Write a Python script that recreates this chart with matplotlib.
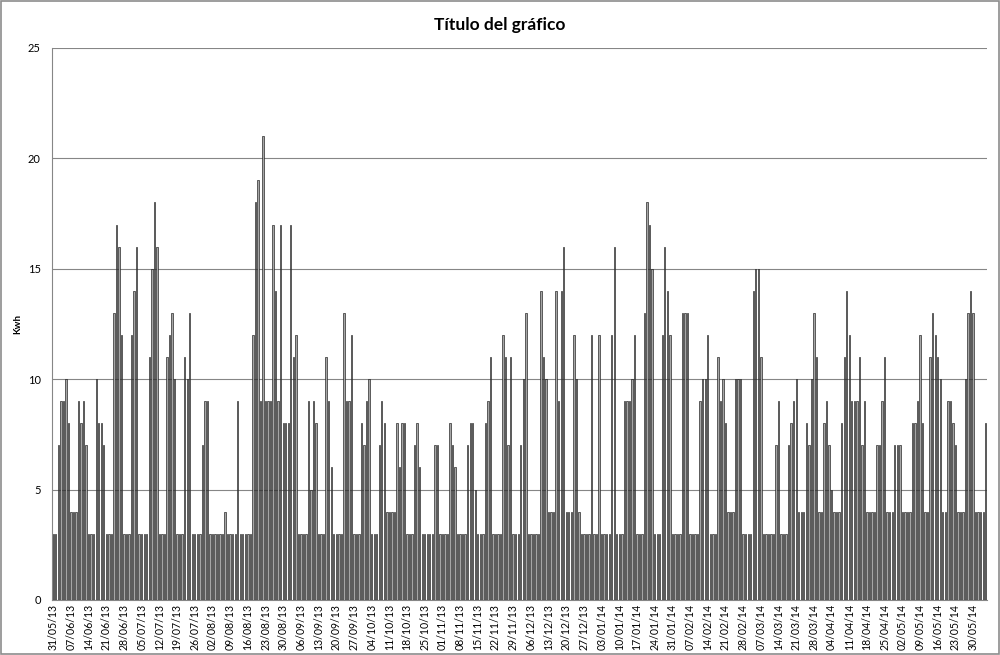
import matplotlib
matplotlib.use("Agg")
import matplotlib.pyplot as plt
import pandas as pd
import numpy as np

start_date = "2013-05-31"
kwh = [
    3,3,7,9,9,10,8, 4,4,4,9,8,9,7, 3,3,3,10,8,8,7, 3,3,3,13,17,16,12, 3,3,
    3, 12,14,16, 3,3,3,3, 11,15,18,16, 3,3,3, 11,12,13,10, 3,3,3, 11,10,13,
    3,3,3,3, 7,9,9, 3,3,3,3,3,3, 4, 3,3,3,3, 9, 3,3,3,3,3,
    12,18,19,9,21,9,9,9,17,14,9,17, 8,8,8, 17,11,12, 3,3,3,3,
    9,5,9,8, 3,3,3, 11,9,6, 3,3,3,3, 13,9,9,12, 3,3,3,
    8,7,9,10, 3,3,3, 7,9,8, 4,4,4,4, 8,6,8,8, 3,3,3, 7,8,6, 3,3,3,3,3,
    7,7, 3,3,3,3, 8,7,6, 3,3,3,3, 7,8,8,5, 3,3,3, 8,9,11, 3,3,3,3,
    12,11,7,11, 3,3,3, 7,10,13, 3,3,3,3,3, 14,11,10, 4,4,4, 14,9,14,16, 4,4,4,
    12,10,4, 3,3,3,3, 12, 3,3, 12, 3,3,3,3, 12,16, 3,3,3, 9,9,9,10,12, 3,3,3,
    13,18,17,15, 3,3,3, 12,16,14,12, 3,3,3,3, 13,13,13, 3,3,3,3,
    9,10,10,12, 3,3,3, 11,9,10,8, 4,4,4, 10,10,10, 3,3,3,3,
    14,15,15,11, 3,3,3,3,3, 7,9, 3,3,3, 7,8,9,10, 4,4,4, 8,7,10,13,11, 4,4,
    8,9,7,5, 4,4,4, 8,11,14,12,9,9,9,11,7,9, 4,4,4,4, 7,7,9,11, 4,4,4,
    7,7,7, 4,4,4,4, 8,8,9,12,8, 4,4, 11,13,12,11,10, 4,4, 9,9,8,7, 4,4,4,
    10,13,14,13, 4,4,4,4, 8,
]
tick_step = 7

dates = pd.date_range(start_date, periods=len(kwh), freq="D")
labels = [d.strftime("%d/%m/%y") for d in dates]
x = np.arange(len(kwh))

fig = plt.figure(figsize=(10, 6.55), dpi=100)
ax = fig.add_axes([0.052, 0.084, 0.935, 0.843])

ax.bar(x, kwh, width=0.55, color="#a6a6a6", edgecolor="#000000", linewidth=0.4, zorder=3)

ax.set_xlim(-0.5, len(kwh) - 0.5)
ax.set_ylim(0, 25)
ax.set_yticks([0, 5, 10, 15, 20, 25])
ax.yaxis.grid(True, color="#868686", linewidth=0.8, zorder=0)
ax.set_xticks(x[::tick_step])
ax.set_xticklabels(labels[::tick_step], rotation=90, fontsize=7.6, family="Lato")
ax.tick_params(axis="x", length=0, pad=3)
ax.tick_params(axis="y", length=0, pad=8, labelsize=8)
for lbl in ax.get_yticklabels():
    lbl.set_family("Lato")

for side in ["top", "right"]:
    ax.spines[side].set_visible(False)
ax.spines["left"].set_color("#868686")
ax.spines["bottom"].set_color("#868686")

ax.set_ylabel("Kwh", fontsize=7, fontweight="bold", family="Lato")
ax.yaxis.set_label_coords(-0.032, 0.5)
fig.text(0.5, 0.962, "Título del gráfico", ha="center", va="center",
         fontsize=12.5, fontweight="bold", family="Lato")

border = plt.Rectangle((0.001, 0.001), 0.998, 0.998, transform=fig.transFigure,
                       fill=False, edgecolor="#8c8c8c", linewidth=1.2)
fig.patches.append(border)

fig.savefig("out.png", dpi=100)
print(len(kwh))
